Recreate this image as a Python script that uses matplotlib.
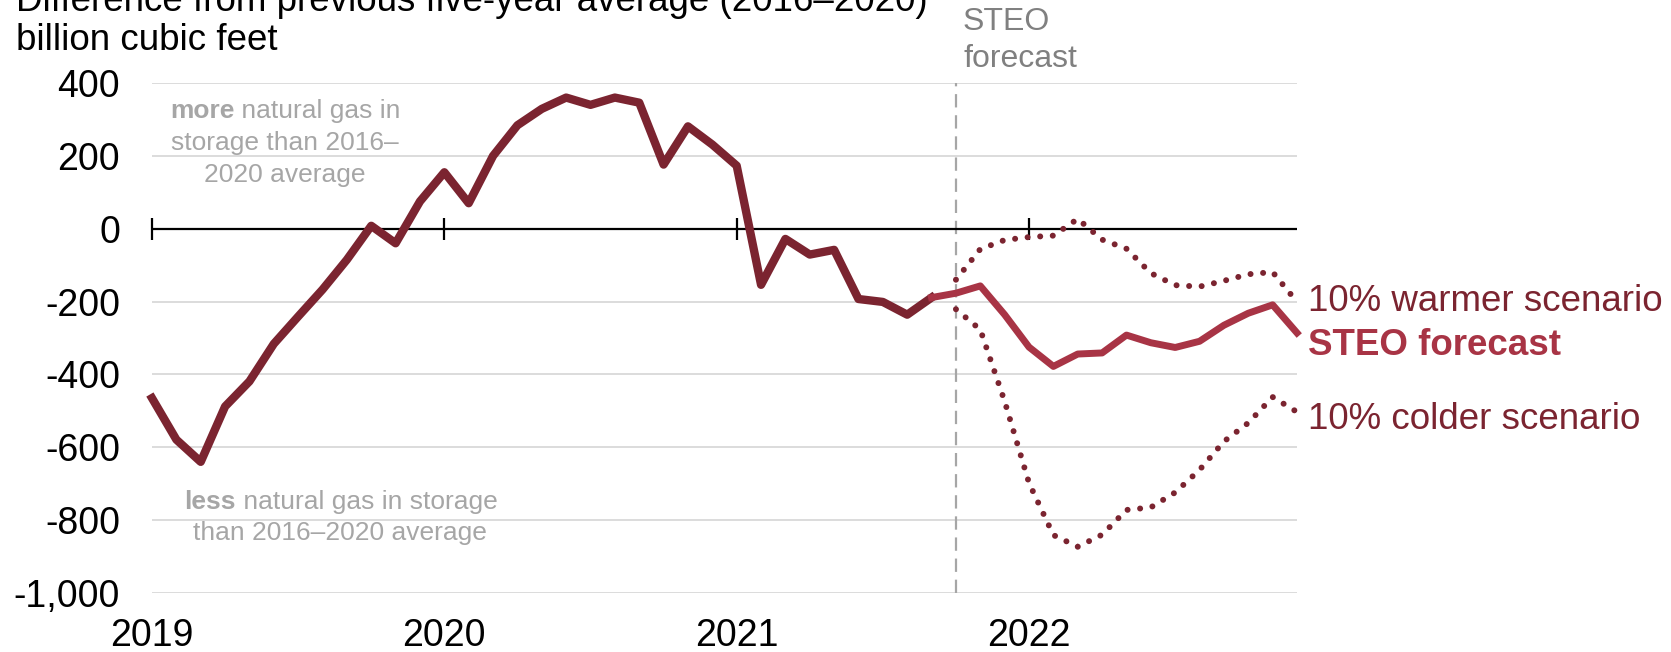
import numpy as np
import matplotlib.pyplot as plt

plt.rcParams['font.family'] = ['Liberation Sans', 'DejaVu Sans']

# monthly, Jan 2019 .. Dec 2022 (index 0 .. 47)
years = ['2019', '2020', '2021', '2022']
year_pos = [0, 12, 24, 36]

# history Jan 2019 .. Sep 2021
hist_values = [-465, -579, -640, -488, -419, -316, -241, -167, -85, 8, -40, 75,
               155, 70, 200, 284, 329, 360, 340, 360, 346, 176, 281, 231,
               173, -154, -28, -71, -58, -193, -201, -236, -189]
# STEO forecast Sep 2021 .. Dec 2022
forecast_values = [-189, -177, -157, -236, -325, -378, -344, -341, -292, -313,
                   -326, -309, -265, -232, -209, -286]
# scenarios Oct 2021 .. Dec 2022
warmer_values = [-140, -56, -31, -23, -19, 27, -30, -55, -122, -155, -159,
                 -143, -125, -119, -201]
colder_values = [-221, -277, -474, -698, -841, -873, -840, -772, -765, -724,
                 -662, -584, -533, -462, -503]

yticks = [-1000, -800, -600, -400, -200, 0, 200, 400]

hist_x = np.arange(0, 33)
forecast_x = np.arange(32, 48)
scen_x = np.arange(33, 48)

dark = '#7b2430'
red = '#a83445'
W, H = 1671, 652

fig = plt.figure(figsize=(W / 100, H / 100), dpi=100)
ax = fig.add_axes([152 / W, 1 - 593 / H, 1145 / W, 510 / H])

ax.set_xlim(0, 47)
ax.set_ylim(-1000, 400)
ax.set_yticks(yticks)
ax.set_yticklabels([f'{v:,}' for v in yticks])
ax.set_xticks(year_pos)
ax.set_xticklabels(years)
ax.tick_params(axis='y', length=0, pad=23, labelsize=27)
ax.tick_params(axis='x', length=0, pad=18, labelsize=27)
for s in ax.spines.values():
    s.set_visible(False)
ax.yaxis.grid(True, color='#d9d9d9', lw=1.3)
ax.set_axisbelow(True)

# zero line with year ticks
ax.axhline(0, color='black', lw=1.6, zorder=2)
ax.plot(year_pos, [0] * len(year_pos), ls='none', marker='|', ms=16, mew=1.6,
        color='black', clip_on=False, zorder=2)

# start of forecast
ax.axvline(33, color='#a6a6a6', lw=1.6, dashes=(6, 3.5), zorder=1)

ax.plot(hist_x, hist_values, color=dark, lw=6, solid_joinstyle='round',
        clip_on=False, zorder=4)
ax.plot(forecast_x, forecast_values, color=red, lw=5, solid_joinstyle='round',
        clip_on=False, zorder=4)
for vals in (warmer_values, colder_values):
    ax.plot(scen_x, vals, color=dark, lw=4.3, dashes=(0.01, 2.1),
            dash_capstyle='round', clip_on=False, zorder=3)

# right-hand labels
lab = dict(xytext=(8, 0), textcoords='offset points', va='baseline',
           fontsize=26.5, annotation_clip=False)
ax.annotate('10% warmer scenario', xy=(47, -227), color=dark, **lab)
ax.annotate('STEO forecast', xy=(47, -348), color=red, weight='bold', **lab)
ax.annotate('10% colder scenario', xy=(47, -550), color=dark, **lab)

# titles
fig.text(16 / W, 1 - 11 / H, 'Difference from previous five-year average (2016–2020)',
         fontsize=26.5, va='baseline')
fig.text(16 / W, 1 - 49.5 / H, 'billion cubic feet', fontsize=26.5, va='baseline')

fig.text(963 / W, 1 - 30 / H, 'STEO', color='#808080', fontsize=23, va='baseline')
fig.text(963 / W, 1 - 67 / H, 'forecast', color='#808080', fontsize=23, va='baseline')

# notes above/below zero
gray = '#a6a6a6'
t = fig.text(170 / W, 1 - 118.3 / H, 'more', color=gray, fontsize=19,
             weight='bold', va='baseline')
ax.annotate(' natural gas in', xy=(1, 0), xycoords=t, va='bottom', color=gray,
            fontsize=19, annotation_clip=False)
fig.text(285 / W, 1 - 150 / H, 'storage than 2016–', color=gray, fontsize=19,
         ha='center', va='baseline')
fig.text(285 / W, 1 - 181.7 / H, '2020 average', color=gray, fontsize=19,
         ha='center', va='baseline')

t = fig.text(184 / W, 1 - 509 / H, 'less', color=gray, fontsize=19,
             weight='bold', va='baseline')
ax.annotate(' natural gas in storage', xy=(1, 0), xycoords=t, va='bottom',
            color=gray, fontsize=19, annotation_clip=False)
fig.text(340 / W, 1 - 540 / H, 'than 2016–2020 average', color=gray, fontsize=19,
         ha='center', va='baseline')

fig.savefig('out.png', dpi=100)
